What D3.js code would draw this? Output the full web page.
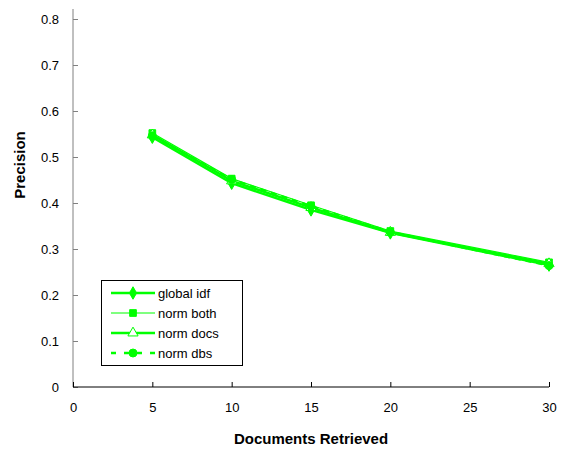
<!DOCTYPE html>
<html lang="en">
<head>
<meta charset="UTF-8" />
<title>Precision vs Documents Retrieved</title>
<script src="https://d3js.org/d3.v7.js"></script>
<style>
  body { margin: 0; background: #fff; }
  text { font-family: "Liberation Sans", Arial, sans-serif; }
</style>
</head>
<body>
<script>
var w = 563;
var h = 451;

// data
var docs = [5, 10, 15, 20, 30];
var globalIdf = [0.543, 0.443, 0.385, 0.335, 0.265];
var normBoth = [0.552, 0.453, 0.395, 0.339, 0.271];
var normDocs = [0.548, 0.448, 0.390, 0.336, 0.268];
var normDbs = [0.546, 0.451, 0.393, 0.337, 0.264];
var seriesNames = ["global idf", "norm both", "norm docs", "norm dbs"];
var xTicks = [0, 5, 10, 15, 20, 25, 30];
var yTicks = [0, 0.1, 0.2, 0.3, 0.4, 0.5, 0.6, 0.7, 0.8];

var green = "#00ff00";
var series = [
    {name: seriesNames[0], values: globalIdf, marker: "diamond", width: 2.5, dash: null},
    {name: seriesNames[1], values: normBoth, marker: "square", width: 1.2, dash: null},
    {name: seriesNames[2], values: normDocs, marker: "triangle", width: 2.5, dash: null},
    {name: seriesNames[3], values: normDbs, marker: "circle", width: 2.5, dash: "6,5"}
];

var svg = d3.select("body")
    .append("svg")
    .attr("width", w)
    .attr("height", h);

var xScale = d3.scaleLinear()
    .domain([0, 30])
    .range([73, 549]);

var yScale = d3.scaleLinear()
    .domain([0, 0.8])
    .range([387, 19]);

// axes, ticks point inwards like the original
var xAxis = d3.axisBottom(xScale)
    .tickValues(xTicks)
    .tickSize(-5)
    .tickPadding(16)
    .tickFormat(d3.format("d"));

var yAxis = d3.axisLeft(yScale)
    .tickValues(yTicks)
    .tickSize(-5)
    .tickPadding(14)
    .tickFormat(function(d){ return d === 0 ? "0" : d3.format(".1f")(d); });

var gy = svg.append("g")
    .attr("transform", "translate(73,0)")
    .call(yAxis);
gy.select(".domain").attr("d", "M0,9V387").attr("stroke", "#808080");
gy.selectAll(".tick line").attr("stroke", "#808080");

var gx = svg.append("g")
    .attr("transform", "translate(0,387)")
    .call(xAxis);
gx.select(".domain").attr("d", "M73,0H549").attr("stroke", "#000");

svg.selectAll(".tick text")
    .attr("font-size", 13)
    .attr("fill", "#000")
    .attr("font-family", "Liberation Sans, Arial, sans-serif");

// axis titles
svg.append("text")
    .attr("x", 311)
    .attr("y", 444)
    .attr("text-anchor", "middle")
    .attr("font-size", 15)
    .attr("font-weight", "bold")
    .text("Documents Retrieved");

svg.append("text")
    .attr("transform", "translate(25,165) rotate(-90)")
    .attr("text-anchor", "middle")
    .attr("font-size", 15)
    .attr("font-weight", "bold")
    .text("Precision");

var symbols = {
    diamond: d3.symbol().type(d3.symbolDiamond).size(45),
    square: d3.symbol().type(d3.symbolSquare).size(45),
    triangle: d3.symbol().type(d3.symbolTriangle).size(45),
    circle: d3.symbol().type(d3.symbolCircle).size(50)
};

var line = d3.line()
    .x(function(d, i){ return xScale(docs[i]); })
    .y(function(d){ return yScale(d); });

series.forEach(function(s){
    svg.append("path")
        .attr("d", line(s.values))
        .attr("fill", "none")
        .attr("stroke", green)
        .attr("stroke-width", s.width)
        .attr("stroke-dasharray", s.dash);
    svg.selectAll(null)
        .data(s.values)
        .enter()
        .append("path")
        .attr("transform", function(d, i){
            return "translate(" + xScale(docs[i]) + "," + yScale(d) + ")";
        })
        .attr("d", symbols[s.marker]())
        .attr("fill", s.marker === "triangle" ? "#fff" : green)
        .attr("stroke", green)
        .attr("stroke-width", 1);
});

// legend
var legend = svg.append("g");
legend.append("rect")
    .attr("x", 101.5)
    .attr("y", 280.5)
    .attr("width", 141)
    .attr("height", 85)
    .attr("fill", "#fff")
    .attr("stroke", "#000");

series.forEach(function(s, i){
    var ly = 293 + i * 20;
    legend.append("line")
        .attr("x1", 111)
        .attr("x2", 155)
        .attr("y1", ly)
        .attr("y2", ly)
        .attr("stroke", green)
        .attr("stroke-width", s.width)
        .attr("stroke-dasharray", s.dash ? "5,8" : null);
    legend.append("path")
        .attr("transform", "translate(133," + ly + ")")
        .attr("d", symbols[s.marker]())
        .attr("fill", s.marker === "triangle" ? "#fff" : green)
        .attr("stroke", green)
        .attr("stroke-width", 1);
    legend.append("text")
        .attr("x", 158)
        .attr("y", ly + 5)
        .attr("font-size", 13)
        .text(s.name);
});
</script>
</body>
</html>
